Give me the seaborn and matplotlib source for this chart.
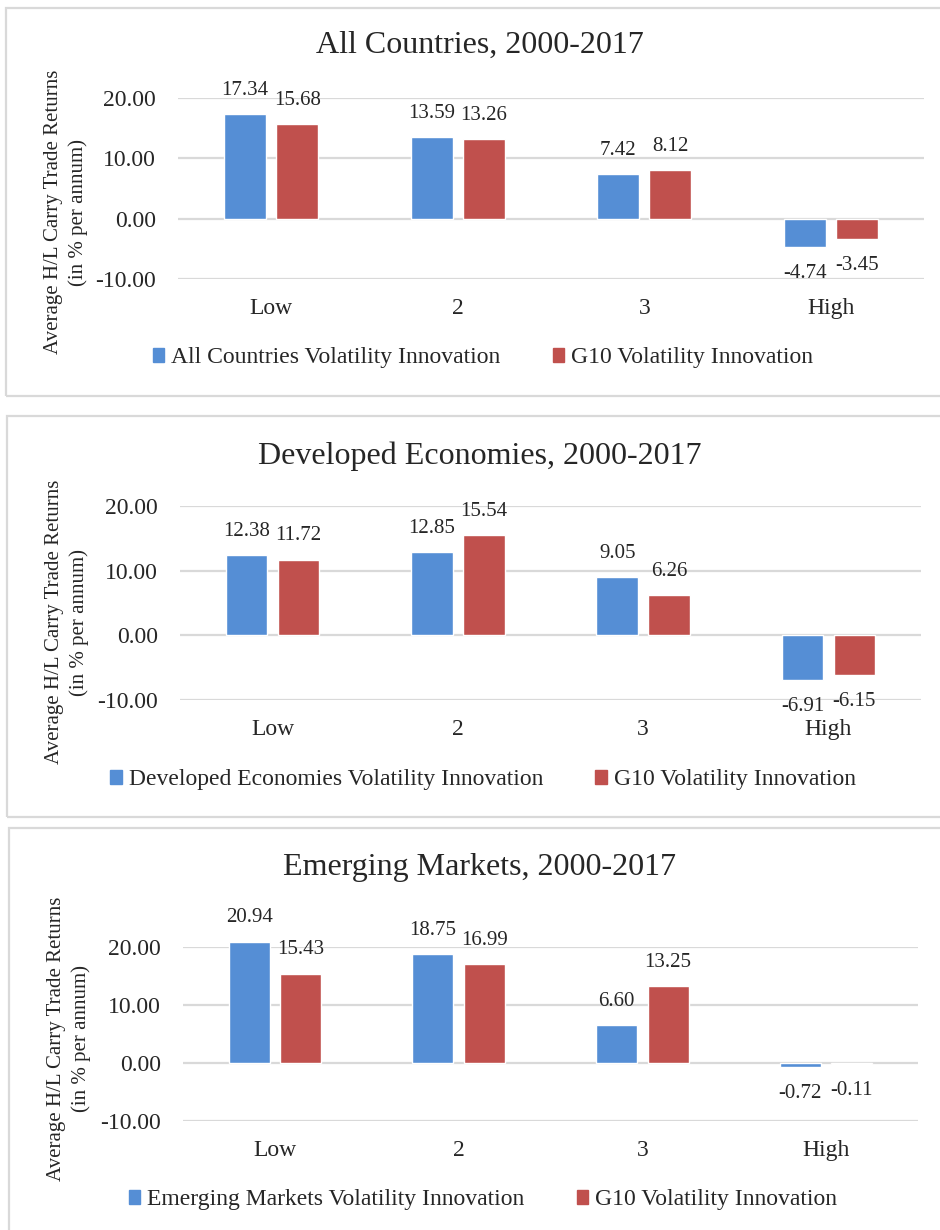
import matplotlib
matplotlib.use("Agg")
import matplotlib.pyplot as plt
from matplotlib.patches import Patch, Rectangle
import pandas as pd
import seaborn as sns

# data
buckets = ["Low", "2", "3", "High"]
g10_label = "G10 Volatility Innovation"

titles = ["All Countries, 2000-2017",
          "Developed Economies, 2000-2017",
          "Emerging Markets, 2000-2017"]
series_labels = ["All Countries Volatility Innovation",
                 "Developed Economies Volatility Innovation",
                 "Emerging Markets Volatility Innovation"]

all_vol = [17.34, 13.59, 7.42, -4.74]
all_g10 = [15.68, 13.26, 8.12, -3.45]
dev_vol = [12.38, 12.85, 9.05, -6.91]
dev_g10 = [11.72, 15.54, 6.26, -6.15]
em_vol = [20.94, 18.75, 6.60, -0.72]
em_g10 = [15.43, 16.99, 13.25, -0.11]

panel_values = [(all_vol, all_g10), (dev_vol, dev_g10), (em_vol, em_g10)]
yticks = [-10, 0, 10, 20]

BLUE = "#558ED5"
RED = "#C0504D"
GRID = "#D9D9D9"

W, H = 940, 1230
sns.set_style("white")
plt.rcParams["font.family"] = ["Liberation Serif", "DejaVu Serif"]

fig = plt.figure(figsize=(W / 100, H / 100), dpi=100)

def px_rect(left, top, right, bottom):
    return [left / W, 1 - bottom / H, (right - left) / W, (bottom - top) / H]

# layout in pixels: border box, axes box, title y, ylabel pos, legend y
layout = [
    dict(box=(6, 8, 960, 396), ax=(178, 98, 924, 279), title=45, ylab=(66, 212), leg=358),
    dict(box=(7, 416, 960, 817), ax=(180, 506, 921, 700), title=456, ylab=(67, 622), leg=780),
    dict(box=(9, 828, 960, 1250), ax=(183, 947, 918, 1121), title=868, ylab=(69, 1039), leg=1200),
]

for i, (vals, lay) in enumerate(zip(panel_values, layout)):
    bl, bt, br, bb = lay["box"]
    fig.patches.append(Rectangle((bl / W, 1 - bb / H), (br - bl) / W, (bb - bt) / H,
                                 transform=fig.transFigure, fill=False,
                                 edgecolor=GRID, linewidth=1.6))

    df = pd.DataFrame({
        "bucket": buckets * 2,
        "ret": list(vals[0]) + list(vals[1]),
        "series": [series_labels[i]] * 4 + [g10_label] * 4,
    })

    ax = fig.add_axes(px_rect(*lay["ax"]))
    sns.barplot(data=df, x="bucket", y="ret", hue="series",
                palette=[BLUE, RED], width=0.56, gap=0.2,
                ax=ax, legend=False, errorbar=None, saturation=1)

    ax.set_ylim(-10, 20)
    ax.set_yticks(yticks)
    ax.set_yticklabels([f"{t:.2f}" for t in yticks])
    ax.set_xlim(-0.5, 3.5)
    ax.yaxis.grid(True, color=GRID, linewidth=1.6)
    ax.set_axisbelow(True)
    for s in ax.spines.values():
        s.set_visible(False)
    ax.tick_params(axis="both", length=0, labelsize=17)
    ax.tick_params(axis="x", pad=14)
    ax.tick_params(axis="y", pad=16)
    ax.set_xlabel("")
    ax.set_ylabel("")

    # value labels: above positive bars, below negative ones
    for cont in ax.containers:
        for p in cont:
            p.set_clip_on(False)
            v = p.get_height()
            off = 17 if v >= 0 else -19
            ax.annotate(f"{v:.2f}", (p.get_x() + p.get_width() / 2, v),
                        xytext=(0, off), textcoords="offset points",
                        ha="center", va="center", fontsize=15,
                        annotation_clip=False)

    fig.text(480 / W, 1 - lay["title"] / H, titles[i], ha="center", va="center", fontsize=23)
    fig.text(lay["ylab"][0] / W, 1 - lay["ylab"][1] / H,
             "Average H/L Carry Trade Returns\n(in % per annum)",
             rotation=90, ha="center", va="center", multialignment="center",
             fontsize=15, linespacing=1.4)

    handles = [Patch(color=BLUE, label=series_labels[i]), Patch(color=RED, label=g10_label)]
    fig.legend(handles=handles, loc="center", bbox_to_anchor=(483 / W, 1 - lay["leg"] / H),
               ncol=2, frameon=False, fontsize=17, handlelength=0.5, handleheight=0.5,
               handletextpad=0.3, columnspacing=2.2, borderaxespad=0)

fig.savefig("out.png", dpi=100)
